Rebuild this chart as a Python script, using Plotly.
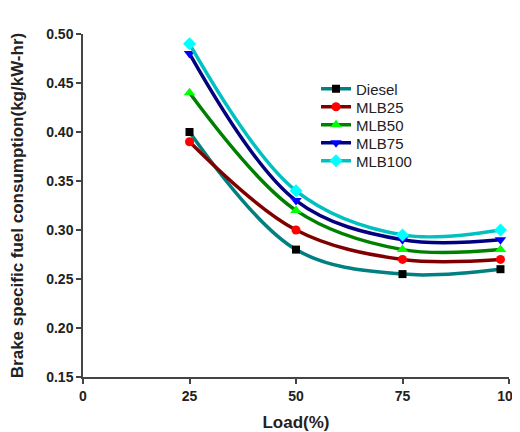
import plotly.graph_objects as go

load = [25, 50, 75, 98]
diesel = [0.40, 0.28, 0.255, 0.26]
mlb25 = [0.39, 0.30, 0.27, 0.27]
mlb50 = [0.44, 0.32, 0.28, 0.28]
mlb75 = [0.48, 0.33, 0.29, 0.29]
mlb100 = [0.49, 0.34, 0.295, 0.30]

series = [
    ("Diesel", diesel, "#008080", "#000000", "square", 8),
    ("MLB25", mlb25, "#800000", "#ff0000", "circle", 9),
    ("MLB50", mlb50, "#008000", "#00ff00", "triangle-up", 10),
    ("MLB75", mlb75, "#000080", "#0000ff", "triangle-down", 10),
    ("MLB100", mlb100, "#00c0c0", "#00ffff", "diamond", 10),
]

# page body has an 8px margin, so the figure starts at (8, 8)
W, H = 512, 424
L, T, PW, PH = 75, 26, 426, 343

fig = go.Figure()
legend_layout = {}
for i, (name, vals, lc, mc, sym, ms) in enumerate(series):
    lname = "legend" if i == 0 else f"legend{i + 1}"
    fig.add_trace(go.Scatter(
        x=load, y=vals, name=name, mode="lines+markers",
        line=dict(color=lc, width=3.5, shape="spline", smoothing=1.0),
        marker=dict(color=mc, symbol=sym, size=ms, line=dict(width=0)),
        legend=lname, showlegend=True,
    ))
    legend_layout[lname] = dict(
        x=0.547, y=(PH - (89 - 8 - T) - i * 18) / PH, xanchor="left", yanchor="middle",
        bgcolor="rgba(0,0,0,0)", borderwidth=0,
        font=dict(family="Liberation Sans, Arial", size=15, color="#222222"),
    )

tick_font = dict(family="Liberation Sans, Arial", size=14, color="#222222", weight="bold")
fig.update_layout(
    width=W, height=H,
    margin=dict(l=L, r=W - L - PW, t=T, b=H - T - PH),
    showlegend=True,
    plot_bgcolor="white", paper_bgcolor="white",
    font=dict(family="Liberation Sans, Arial", color="#222222"),
    xaxis=dict(range=[0, 100], tickvals=[0, 25, 50, 75, 100],
               ticks="outside", ticklen=5, tickwidth=1.5, tickcolor="#444",
               showline=True, linecolor="#444", linewidth=1.5, showgrid=False,
               zeroline=False, automargin=False, ticklabeloverflow="allow",
               tickfont=tick_font,
               title=dict(text="<b>Load(%)</b>", font=dict(size=17), standoff=15)),
    yaxis=dict(range=[0.15, 0.50], tickvals=[0.15, 0.20, 0.25, 0.30, 0.35, 0.40, 0.45, 0.50],
               tickformat=".2f",
               ticks="outside", ticklen=5, tickwidth=1.5, tickcolor="#444",
               showline=True, linecolor="#444", linewidth=1.5, showgrid=False,
               zeroline=False, automargin=False, ticklabeloverflow="allow",
               tickfont=tick_font,
               title=dict(text="<b>Brake specific fuel consumption(kg/kW-hr)</b>", font=dict(size=17), standoff=24)),
    **legend_layout,
)
fig.write_html("out.html")
